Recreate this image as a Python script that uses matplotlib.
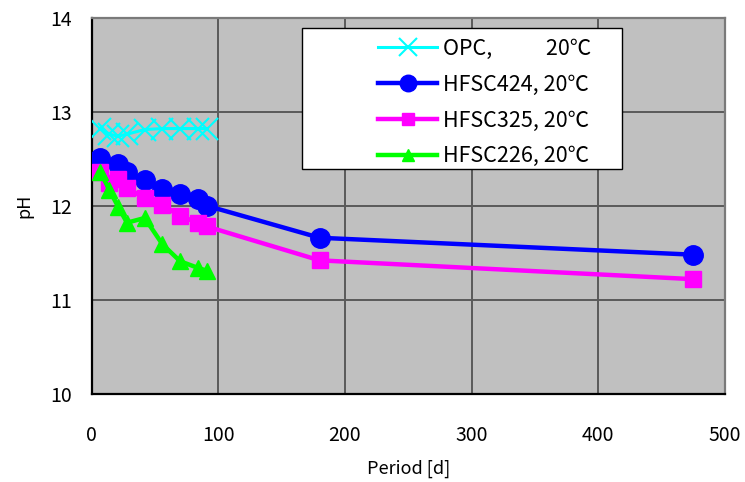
import matplotlib
matplotlib.use("Agg")
import matplotlib.pyplot as plt
from matplotlib.patches import Rectangle

plt.rcParams['font.family'] = ['Noto Sans CJK JP', 'DejaVu Sans']

# Curing period (days) and measured pH for each mix
days_opc = [7, 14, 21, 28, 42, 56, 70, 84, 91]
ph_opc = [12.82, 12.76, 12.74, 12.76, 12.81, 12.82, 12.82, 12.82, 12.82]

days_424 = [7, 21, 28, 42, 56, 70, 84, 91, 180, 475]
ph_424 = [12.51, 12.44, 12.36, 12.27, 12.18, 12.12, 12.07, 12.00, 11.66, 11.48]

days_325 = [7, 14, 21, 28, 42, 56, 70, 84, 91, 180, 475]
ph_325 = [12.36, 12.24, 12.28, 12.19, 12.08, 12.01, 11.89, 11.82, 11.78, 11.42, 11.22]

days_226 = [7, 14, 21, 28, 42, 56, 70, 84, 91]
ph_226 = [12.36, 12.17, 11.99, 11.82, 11.87, 11.59, 11.41, 11.34, 11.31]

labels = ["OPC,           20℃", "HFSC424, 20℃", "HFSC325, 20℃", "HFSC226, 20℃"]
x_ticks = [0, 100, 200, 300, 400, 500]
y_ticks = [10, 11, 12, 13, 14]

W, H = 745, 482
L, R, T, B = 91.5, 725, 17.5, 394

fig = plt.figure(figsize=(W / 100, H / 100), dpi=100)
ax = fig.add_axes([L / W, (H - B) / H, (R - L) / W, (B - T) / H])
ax.set_facecolor('#C0C0C0')


def ax_x(px):
    return (px - L) / (R - L)


def ax_y(py):
    return (B - py) / (B - T)


ax.plot(days_opc, ph_opc, color='#00FFFF', lw=2.2, marker='x', ms=16, mew=1.5,
        label=labels[0], zorder=3)
ax.plot(days_424, ph_424, color='#0000FF', lw=3.2, marker='o', ms=14,
        label=labels[1], zorder=4)
ax.plot(days_325, ph_325, color='#FF00FF', lw=3.2, marker='s', ms=11,
        label=labels[2], zorder=5)
ax.plot(days_226, ph_226, color='#00FF00', lw=3.2, marker='^', ms=11,
        label=labels[3], zorder=6)

ax.set_xlim(0, 500)
ax.set_ylim(10, 14)
ax.set_xticks(x_ticks)
ax.set_yticks(y_ticks)
ax.grid(True, color='#5A5A5A', lw=1.4, zorder=1)
ax.set_axisbelow(True)

ax.tick_params(axis='both', direction='in', length=0, labelsize=14)
ax.tick_params(axis='x', pad=22)
ax.tick_params(axis='y', pad=14)

for side in ('left', 'bottom'):
    ax.spines[side].set_color('black')
    ax.spines[side].set_linewidth(1.6)
for side in ('top', 'right'):
    ax.spines[side].set_color('#7A7A7A')
    ax.spines[side].set_linewidth(1.6)

ax.set_xlabel('Period [d]', fontsize=13, labelpad=10)
ax.set_ylabel('pH', fontsize=13, labelpad=12)

# legend frame drawn as a plain white box; entries sit toward its right side
box = Rectangle((ax_x(302), ax_y(169)), ax_x(622) - ax_x(302), ax_y(28) - ax_y(169),
                transform=ax.transAxes, facecolor='white', edgecolor='black',
                lw=1.0, zorder=10)
ax.add_patch(box)

leg = ax.legend(loc='upper left', bbox_to_anchor=(ax_x(378), ax_y(38)),
                fontsize=15.5, frameon=False, handlelength=2.75,
                handletextpad=0.28, borderpad=0, labelspacing=0.64,
                markerscale=0.85, borderaxespad=0)
leg.set_zorder(11)

fig.savefig('out.png', dpi=100, facecolor='white')
